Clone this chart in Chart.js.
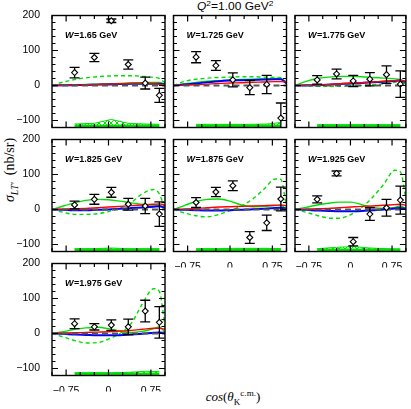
<!DOCTYPE html>
<html>
<head>
<meta charset="utf-8">
<script src="https://cdn.jsdelivr.net/npm/chart.js@4.4.0/dist/chart.umd.min.js"></script>
<style>
  html, body { margin: 0; padding: 0; background: #fff; }
  #page { position: relative; width: 411px; height: 409px; overflow: hidden; }
  #page canvas { position: absolute; left: 0; top: 0; }
  .txt { position: absolute; white-space: nowrap; color: #000; line-height: 1; }
  .title { font: 12px "Liberation Sans", sans-serif; left: 197px; top: 0px; transform: scaleY(0.85); }
  .ytitle { font: 14px "Liberation Serif", serif; left: 10px; top: 170px; transform: translate(-50%, -50%) rotate(-90deg); }
  .xtitle { font: 13px "Liberation Serif", serif; left: 233px; top: 397px; transform: translate(-50%, -50%); }
  sub, sup { font-size: 70%; line-height: 0; }
</style>
</head>
<body>
<div id="page">
  <div class="txt title"><i>Q</i><sup>2</sup>=1.00 GeV<sup>2</sup></div>
  <div class="txt ytitle"><i>σ</i><sub><i>LT′</i></sub>&nbsp;&nbsp;(nb/sr)</div>
  <div class="txt xtitle"><i>cos</i>(<i>θ</i><sub>K</sub><sup>c.m.</sup>)</div>
</div>
<script>
// ---- data ----
const W_VALUES = ['1.65', '1.725', '1.775', '1.825', '1.875', '1.925', '1.975'];
const COS_DATA = [-0.6, -0.25, 0.05, 0.35, 0.65, 0.9];
const SIGMA_LT = [
    [37, 80, 185, 60, 7, -28],
    [81, 57, 16, -6, 3, -93],
    [16, 33, 13, 18, 31, 4],
    [13, 29, 49, 15, 10, -13],
    [20, 50, 68, -80, -38, 30],
    [29, 103, -92, -13, 5, 27],
    [28, 19, 24, 19, 64, 32]
];
const SIGMA_ERR = [
    [15, 12, 5, 13, 17, 20],
    [16, 14, 20, 20, 26, 43],
    [12, 14, 16, 19, 25, 38],
    [11, 14, 14, 17, 22, 35],
    [14, 13, 14, 17, 22, 34],
    [10, 7, 12, 18, 24, 40],
    [14, 9, 15, 22, 31, 45]
];
const SYS_TOP = [
    [-110, -108, -97, -108, -110, -111],
    [-111, -111, -111, -111, -110, -106],
    [-112, -112, -112, -112, -112, -112],
    [-112, -112, -110, -112, -112, -112],
    [-112, -112, -111, -111, -111, -112],
    [-112, -108, -106, -110, -112, -113],
    [-112, -112, -112, -111, -108, -109]
];
const SYS_BASE = [-115, -115, -115, -115, -115, -115];

const CURVE_COS = [-1, -0.8, -0.6, -0.4, -0.2, 0, 0.2, 0.4, 0.6, 0.8, 0.9, 1];
const GREEN_DASHED = [
    [0, 10, 17, 22, 25, 27, 28, 28, 26, 23, 20, 8],
    [0, 12, 18, 21, 23, 24, 25, 25, 24, 23, 22, 8],
    [0, -1, -2, -2, -2, -1, 0, 2, 5, 9, 12, 5],
    [0, -8, -14, -14, -12, -6, 4, 20, 45, 57, 45, 0],
    [0, -10, -18, -21, -14, -3, 10, 30, 58, 87, 86, 8],
    [0, -8, -17, -24, -25, -15, 5, 35, 72, 112, 108, 30],
    [0, -10, -20, -27, -26, -16, 0, 28, 85, 128, 120, 20]
];
const GREEN_SOLID = [
    [0, 1, 2, 3, 4, 5, 6, 7, 8, 9, 9, 4],
    [0, 5, 9, 12, 14, 16, 17, 18, 19, 20, 20, 5],
    [0, 12, 20, 24, 26, 26, 25, 23, 21, 19, 17, 2],
    [0, 10, 19, 26, 29, 28, 24, 19, 15, 13, 12, 2],
    [0, 12, 23, 29, 30, 24, 13, 8, 9, 11, 11, 2],
    [0, 6, 13, 18, 21, 21, 14, 6, 3, 6, 10, 2],
    [0, 5, 12, 16, 18, 14, 7, 3, 6, 14, 19, 3]
];
const RED_CURVE = [
    [0, 0.5, 1, 2, 3, 4, 5, 6, 6, 5, 4, 1],
    [0, 1, 2, 4, 6, 7, 8, 9, 10, 11, 11, 10],
    [0, 1, 2, 3, 5, 7, 8, 10, 12, 14, 15, 12],
    [0, 1, 2, 3, 5, 7, 9, 11, 13, 15, 16, 12],
    [0, 1, 3, 5, 7, 8, 9, 10, 11, 12, 13, 11],
    [0, 1, 2, 3, 5, 7, 9, 10, 12, 14, 15, 12],
    [0, 1, 2, 3, 4, 5, 7, 9, 12, 15, 15, 12]
];
const BLUE_CURVE = [
    [0, 0.5, 1, 1.5, 2.5, 3, 4, 5, 5, 5, 5, 3],
    [0, 3, 6, 9, 12, 14, 15, 16, 17, 18, 18, 6],
    [0, 0.5, 1, 2, 4, 6, 7, 9, 11, 13, 14, 10],
    [0, -1, -2, -2, -1, 0, 2, 4, 6, 8, 9, 5],
    [0, -1, -2, -3, -3, -2, -1, 1, 2, 4, 5, 3],
    [0, -1, -3, -4, -5, -5, -4, -2, 0, 3, 4, 2],
    [0, -1, -3, -4, -5, -5, -5, -3, -1, 2, 3, 2]
];
const ZERO_CURVE = [0, 0, 0, 0, 0, 0, 0, 0, 0, 0, 0, 0];

const X_TICK_LABELS = [-0.75, 0, 0.75];
const Y_TICK_LABELS = [-100, 0, 100, 200];

// ---- layout ----
const COL_LEFT = [52, 173.5, 295];
const ROW_TOP = [15.5, 139.5, 263.5];
const PANEL_W = 113, PANEL_H = 112;
const Y_AXIS_W = 45, X_AXIS_H = 16;
const GREEN = '#00e000';

Chart.defaults.font.family = '"Liberation Sans", sans-serif';
Chart.defaults.font.size = 10.5;
Chart.defaults.color = '#000';
Chart.defaults.animation = false;

const fmt = v => (v < 0 ? '\u2212' : '') + Math.abs(v);
const near = (v, list) => list.some(t => Math.abs(t - v) < 1e-6);
const pts = (xs, ys) => xs.map((x, i) => ({ x, y: ys[i] }));

const framePlugin = {
    id: 'frame',
    afterDraw(chart) {
        const { ctx, chartArea: a, scales: { x, y } } = chart;
        ctx.save();
        ctx.strokeStyle = '#000';
        ctx.lineWidth = 1.2;
        ctx.beginPath();
        x.ticks.forEach(t => {
            const px = x.getPixelForValue(t.value);
            const len = near(t.value, X_TICK_LABELS) ? 6 : 3.5;
            ctx.moveTo(px, a.bottom); ctx.lineTo(px, a.bottom - len);
            ctx.moveTo(px, a.top); ctx.lineTo(px, a.top + len);
        });
        y.ticks.forEach(t => {
            const py = y.getPixelForValue(t.value);
            const len = t.value % 100 === 0 ? 6 : 3.5;
            ctx.moveTo(a.left, py); ctx.lineTo(a.left + len, py);
            ctx.moveTo(a.right, py); ctx.lineTo(a.right - len, py);
        });
        ctx.stroke();
        ctx.lineWidth = 1.4;
        ctx.strokeRect(a.left, a.top, a.right - a.left, a.bottom - a.top);
        // panel label
        const w = chart.options.plugins.frame.label;
        ctx.fillStyle = '#000';
        ctx.textBaseline = 'alphabetic';
        ctx.font = 'italic bold 9px "Liberation Sans"';
        const lx = a.left + 13, ly = a.top + 22;
        ctx.fillText('W', lx, ly);
        const ww = ctx.measureText('W').width;
        ctx.font = 'bold 9px "Liberation Sans"';
        ctx.fillText('=' + w + ' GeV', lx + ww + 0.5, ly);
        ctx.restore();
    }
};

const errorBarPlugin = {
    id: 'errbars',
    beforeDatasetDraw(chart, args) {
        if (args.index !== 0) return;
        const { ctx, chartArea: a, scales: { y } } = chart;
        const errs = chart.options.plugins.errbars.errors;
        const vals = chart.data.datasets[0].data;
        ctx.save();
        ctx.beginPath();
        ctx.rect(a.left, a.top, a.right - a.left, a.bottom - a.top);
        ctx.clip();
        ctx.strokeStyle = '#000';
        ctx.lineWidth = 1.3;
        ctx.beginPath();
        args.meta.data.forEach((el, i) => {
            const hi = y.getPixelForValue(vals[i].y + errs[i]);
            const lo = y.getPixelForValue(vals[i].y - errs[i]);
            ctx.moveTo(el.x, hi); ctx.lineTo(el.x, lo);
            ctx.moveTo(el.x - 5, hi); ctx.lineTo(el.x + 5, hi);
            ctx.moveTo(el.x - 5, lo); ctx.lineTo(el.x + 5, lo);
        });
        ctx.stroke();
        ctx.restore();
    }
};

function hatchPattern(ctx) {
    const c = document.createElement('canvas');
    c.width = 6; c.height = 6;
    const g = c.getContext('2d');
    g.strokeStyle = GREEN;
    g.lineWidth = 1;
    g.beginPath();
    g.moveTo(0, 0); g.lineTo(6, 6);
    g.moveTo(6, 0); g.lineTo(0, 6);
    g.stroke();
    return ctx.createPattern(c, 'repeat');
}

const page = document.getElementById('page');

W_VALUES.forEach((w, p) => {
    const col = p % 3, row = Math.floor(p / 3);
    const showY = col === 0;
    const showX = row === 2 || (row === 1 && col > 0);
    const left = COL_LEFT[col], top = ROW_TOP[row];

    const canvas = document.createElement('canvas');
    canvas.width = 411; canvas.height = 409;
    page.appendChild(canvas);
    const ctx = canvas.getContext('2d');

    const curve = (data, color, width, dash) => ({
        type: 'line', data: pts(CURVE_COS, data), borderColor: color, borderWidth: width,
        borderDash: dash || [], pointRadius: 0, fill: false, cubicInterpolationMode: 'monotone'
    });

    new Chart(canvas, {
        type: 'scatter',
        data: {
            datasets: [
                {
                    type: 'scatter', data: pts(COS_DATA, SIGMA_LT[p]), pointStyle: 'rectRot',
                    pointRadius: 3, pointBorderWidth: 1.1, pointBorderColor: '#000', pointBackgroundColor: '#fff'
                },
                curve(ZERO_CURVE, '#555', 2, [6, 4]),
                curve(RED_CURVE[p], '#ff0000', 1.4),
                curve(BLUE_CURVE[p], '#0000ff', 2),
                curve(GREEN_SOLID[p], GREEN, 1.4),
                curve(GREEN_DASHED[p], GREEN, 1.4, [4, 3]),
                {
                    type: 'line', data: pts(COS_DATA, SYS_TOP[p]), borderColor: GREEN, borderWidth: 1,
                    pointRadius: 0, tension: 0, fill: { value: -115 }, backgroundColor: hatchPattern(ctx)
                },
                {
                    type: 'line', data: pts(COS_DATA, SYS_BASE), borderColor: GREEN, borderWidth: 2.5,
                    pointRadius: 0, fill: false
                }
            ]
        },
        options: {
            responsive: false,
            devicePixelRatio: 1,
            layout: {
                padding: {
                    left: left - (showY ? Y_AXIS_W : 0),
                    top: top,
                    right: 411 - left - PANEL_W,
                    bottom: 409 - top - PANEL_H - (showX ? X_AXIS_H : 0)
                }
            },
            plugins: {
                legend: { display: false },
                tooltip: { enabled: false },
                frame: { label: w },
                errbars: { errors: SIGMA_ERR[p] }
            },
            scales: {
                x: {
                    type: 'linear', min: -1, max: 1,
                    grid: { display: false },
                    border: { display: false },
                    afterFit: s => { s.height = showX ? X_AXIS_H : 0; },
                    ticks: {
                        display: showX, stepSize: 0.25, autoSkip: false, maxRotation: 0, padding: 1,
                        callback: v => near(v, X_TICK_LABELS) ? fmt(Number(v).toFixed(2)) : ''
                    }
                },
                y: {
                    type: 'linear', min: -120, max: 200,
                    grid: { display: false },
                    border: { display: false },
                    afterFit: s => { s.width = showY ? Y_AXIS_W : 0; },
                    ticks: {
                        display: showY, stepSize: 20, autoSkip: false, padding: 4,
                        callback: v => near(v, Y_TICK_LABELS) ? fmt(v) : ''
                    }
                }
            }
        },
        plugins: [framePlugin, errorBarPlugin]
    });
});
</script>
</body>
</html>
